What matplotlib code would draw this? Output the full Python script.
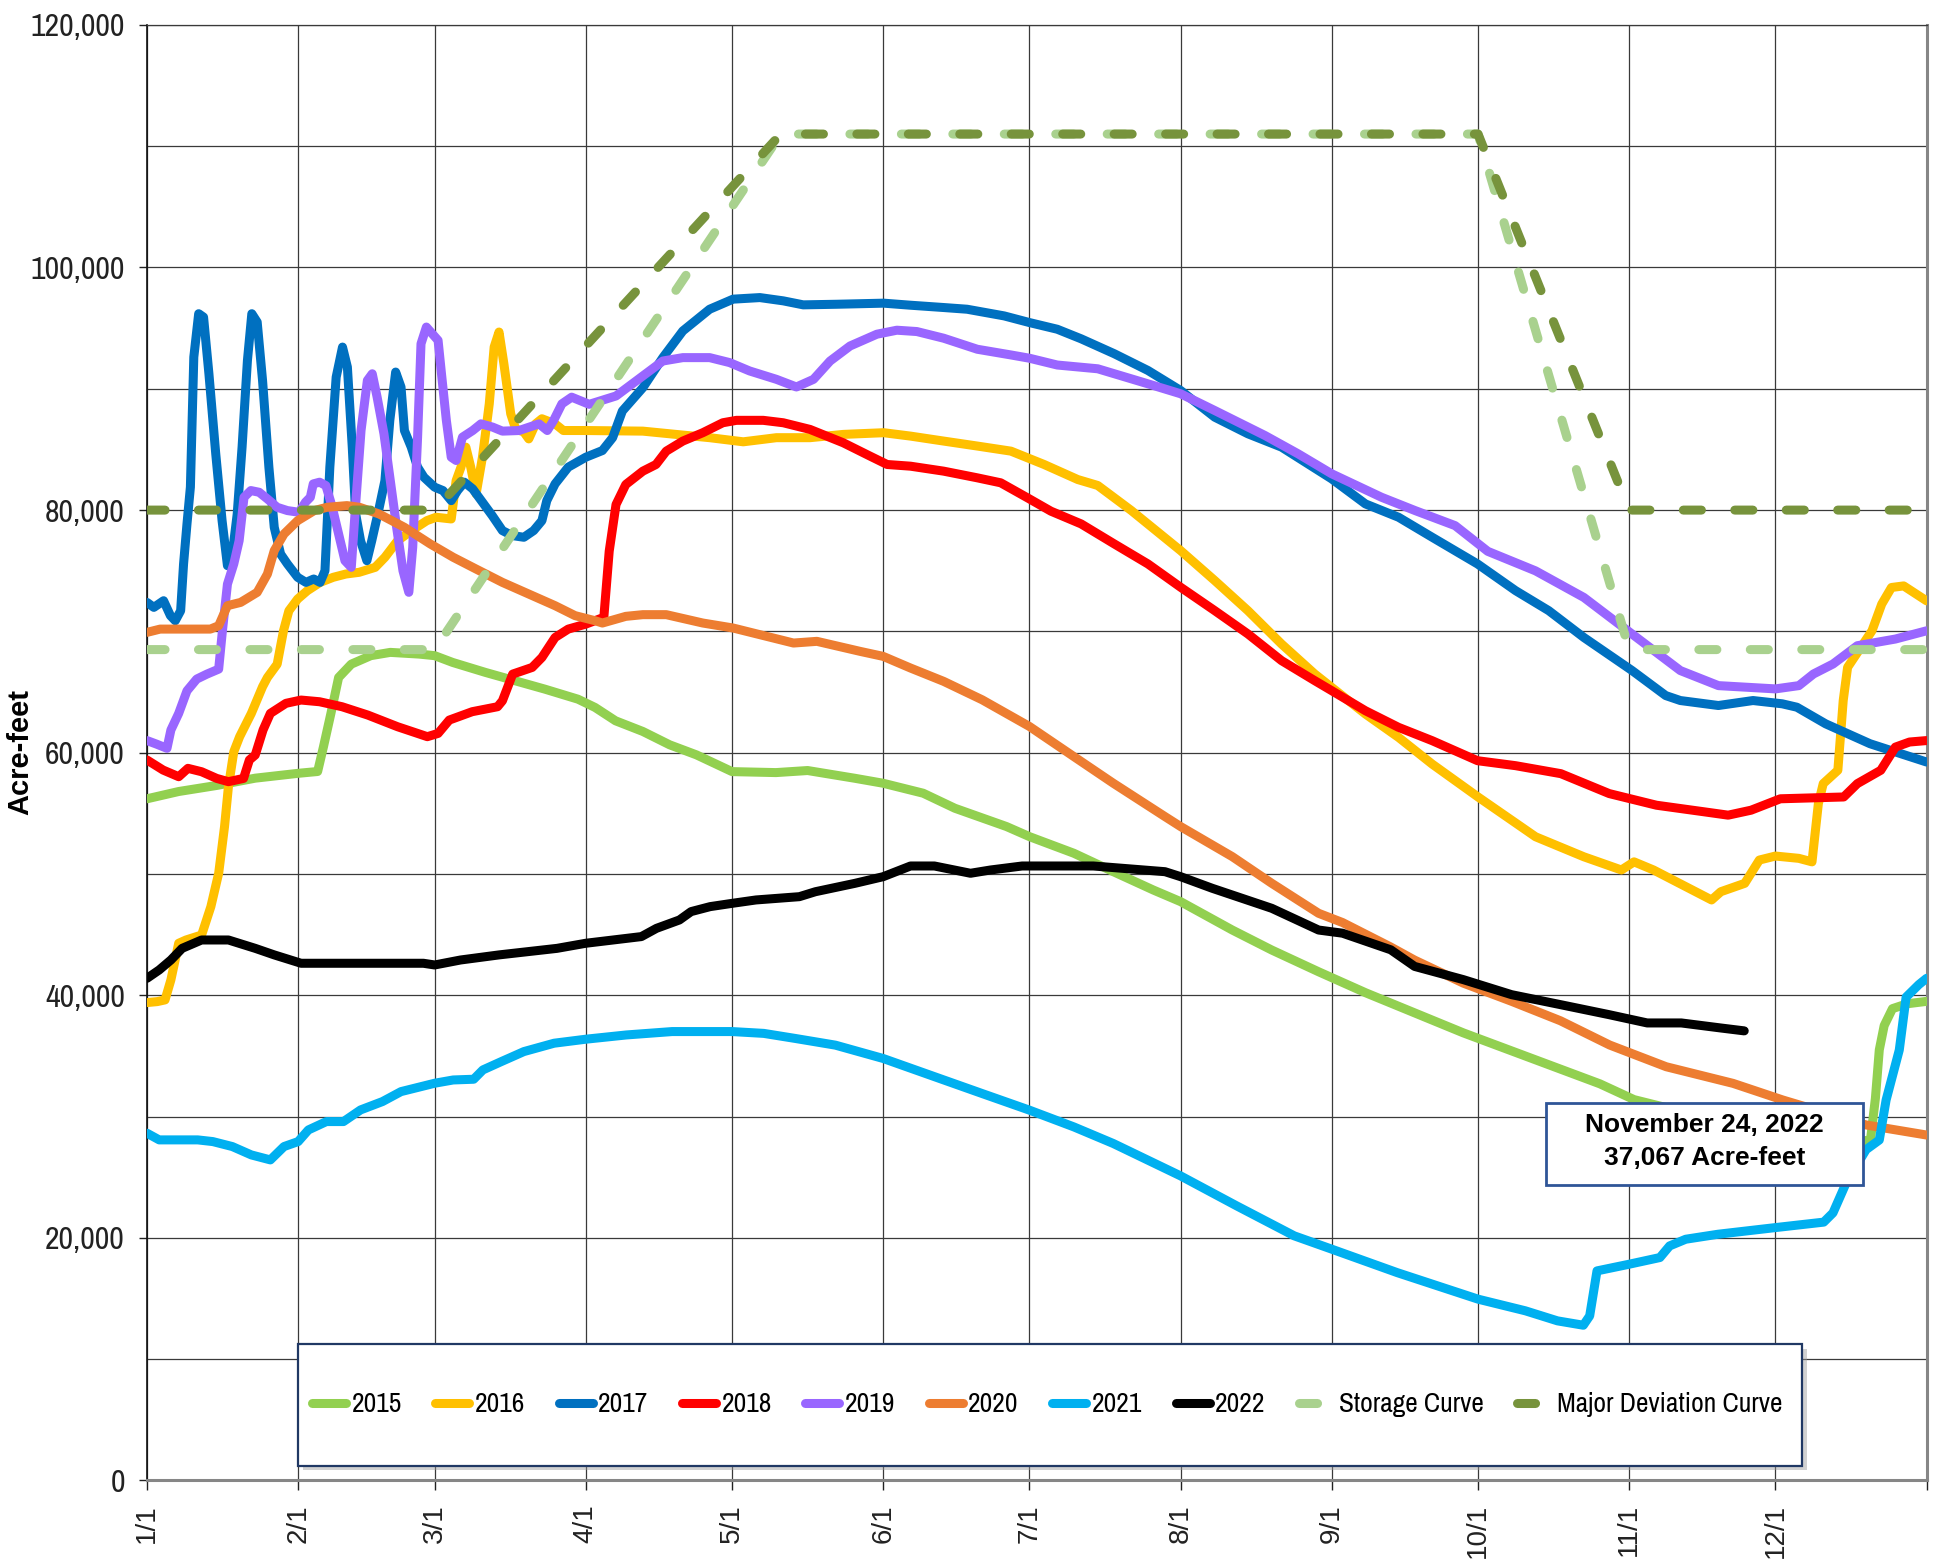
import matplotlib
matplotlib.use("Agg")
import matplotlib.pyplot as plt
from matplotlib import font_manager as fm
from matplotlib.patches import Rectangle
from matplotlib.ticker import FuncFormatter, MultipleLocator, FixedLocator

# ---- data (day of year, acre-feet) ----
month_days = [0, 31, 59, 90, 120, 151, 181, 212, 243, 273, 304, 334]
month_labels = ["1/1", "2/1", "3/1", "4/1", "5/1", "6/1", "7/1", "8/1", "9/1", "10/1", "11/1", "12/1"]

days_2015 = [0, 6.5, 14.3, 22.2, 31, 35, 36.2, 37.7, 39.3, 41.9, 45.9, 49.9, 55.8, 59, 62.7, 69.4, 75.5, 81.6,
             88.4, 91.9, 96.1, 101.7, 107.2, 112.7, 120, 129, 135.5, 145.2, 151, 159.2, 165.7, 176.3, 181, 190.1,
             198.2, 206.4, 212, 222.6, 230.7, 240.3, 250, 260, 270, 280, 290, 298, 305, 320, 335, 351, 353.5,
             354.5, 355.3, 356.3, 358, 361, 365]
af_2015 = [56200, 56800, 57300, 57900, 58300, 58450, 60500, 63200, 66200, 67300, 68000, 68270, 68130, 68000,
           67440, 66620, 65930, 65240, 64410, 63730, 62630, 61750, 60650, 59820, 58440, 58360, 58530, 57890, 57480,
           56660, 55420, 53910, 53080, 51710, 50190, 48680, 47720, 45380, 43730, 41940, 40200, 38550, 36900, 35400,
           33900, 32700, 31400, 29900, 28800, 27900, 28100, 31500, 35500, 37500, 38900, 39300, 39500]

days_2016 = [0, 2.1, 3.7, 4.9, 6.5, 8, 11.2, 13.1, 14.7, 15.9, 16.7, 17.8, 19, 21.4, 23.7, 24.7, 26.7, 28, 29.1,
             30.9, 32.9, 35.5, 38.2, 40.8, 43.5, 46.8, 48.8, 51.4, 54.8, 57.4, 59.3, 62.4, 63.4, 64.4, 65.4, 66.4,
             67.5, 68.8, 70.2, 71.2, 72.2, 73.2, 74.6, 75.6, 77.3, 78.3, 79.7, 81, 83.7, 85.4, 90, 101.7, 108.5,
             115.4, 122.3, 129.1, 136, 142.8, 151.1, 156.6, 163.4, 170.3, 177.2, 184, 190.9, 195, 201.9, 212, 219,
             225.8, 232.7, 239.5, 249.9, 256.7, 263.6, 273, 284.8, 294.7, 302.4, 305, 309, 320.9, 322.8, 327.7,
             330.7, 334, 338.8, 341.5, 342.8, 343.8, 346.8, 347.9, 348.8, 353.8, 355.8, 357.8, 360.3, 365]
af_2016 = [39400, 39480, 39620, 41270, 44290, 44560, 44970, 47310, 50060, 53900, 57200, 60080, 61320, 63240,
           65440, 66200, 67300, 70060, 71700, 72670, 73360, 74040, 74460, 74730, 74870, 75280, 76110, 77480, 78450,
           79130, 79410, 79270, 82430, 83540, 85190, 83540, 81330, 84360, 88760, 93440, 94680, 92060, 87940, 86700,
           86430, 85870, 87110, 87530, 87110, 86560, 86560, 86510, 86240, 85970, 85630, 85970, 85970, 86240, 86380,
           86100, 85690, 85280, 84860, 83760, 82520, 82030, 79960, 76660, 74190, 71710, 68960, 66490, 63190, 61260,
           59060, 56350, 53070, 51420, 50330, 51000, 50330, 47860, 48540, 49230, 51150, 51480, 51290, 51000, 55800,
           57450, 58550, 64300, 67040, 70050, 72250, 73620, 73750, 72520]

days_2017 = [0, 1.4, 3.4, 4.8, 5.8, 6.9, 7.5, 8.2, 8.9, 9.6, 10.6, 11.6, 12.7, 14.1, 15.4, 16.5, 17.5, 18.5, 19.5,
             20.6, 21.5, 22.6, 23.7, 25, 26.1, 27.4, 28.8, 30.9, 32.6, 34.2, 35.5, 36.5, 37.5, 38.8, 40.1, 41.1,
             42.1, 42.8, 43.8, 45.1, 46.1, 47.5, 48.8, 49.8, 51, 52.1, 52.8, 54.2, 55.5, 56.8, 59, 60.7, 62.4, 63.7,
             65.1, 66.8, 68.8, 70.8, 72.9, 74.9, 77.3, 79.3, 81, 82, 83.7, 86.4, 90, 93.4, 95.5, 97.5, 101.7, 105.8,
             109.9, 115.4, 120.2, 125.7, 130.5, 134.6, 141.5, 151.1, 156.6, 163.4, 168.2, 175.8, 181, 186.7, 191.6,
             198.4, 205.3, 212, 219, 225.8, 232.7, 243, 249.9, 256.7, 263.6, 272.9, 280.7, 287.5, 294.7, 304.6,
             311.5, 314.5, 322.3, 329.4, 335.4, 338.4, 344.3, 353.4, 365]
af_2017 = [72390, 71980, 72530, 71300, 70880, 71700, 75560, 78860, 81890, 92610, 96190, 95910, 91240, 84640,
           79130, 75420, 76380, 79670, 85190, 92340, 96190, 95500, 90690, 83540, 78580, 76380, 75560, 74460, 74040,
           74320, 74040, 75000, 83540, 90960, 93440, 91790, 85190, 79680, 77480, 75830, 77480, 79960, 82430, 87390,
           91380, 90140, 86560, 85190, 83540, 82710, 81890, 81610, 80780, 81610, 82300, 81750, 80650, 79550, 78310,
           77900, 77760, 78310, 79130, 80780, 82160, 83540, 84360, 84910, 85970, 88170, 90090, 92570, 94770, 96560,
           97390, 97520, 97250, 96920, 96970, 97060, 96890, 96700, 96560, 96010, 95460, 94910, 94120, 92890, 91510,
           89860, 87660, 86290, 85190, 82570, 80510, 79410, 77760, 75560, 73360, 71710, 69500, 66770, 64710, 64300,
           63890, 64300, 64030, 63750, 62380, 60740, 59230]

days_2018 = [0, 3.3, 6.5, 8.4, 11.2, 14.3, 16.7, 19.8, 21, 22.2, 23.8, 25.3, 28.5, 31.6, 35.4, 40, 45.3, 51.4, 57.5,
             59.7, 62, 66.7, 71.9, 72.9, 75, 79, 81, 83.7, 86.4, 90, 93.7, 94.8, 96.2, 98.2, 101.7, 104.4, 106.5,
             109.9, 114, 118.1, 120.9, 126.4, 130.5, 136, 142.8, 148.3, 151.8, 156.6, 163.4, 170.3, 175.1, 180.6,
             185.4, 191.6, 198.4, 205.3, 212, 219, 225.8, 232.7, 239.5, 243, 249.9, 256.7, 263.6, 272.9, 280.7, 290,
             299.9, 309.6, 319.5, 324.3, 329, 335, 348, 350.8, 355.6, 358.6, 361.5, 365]
af_2018 = [59400, 58570, 58020, 58710, 58430, 57880, 57610, 57880, 59400, 59810, 61870, 63240, 64070, 64340,
           64200, 63790, 63100, 62140, 61320, 61590, 62690, 63380, 63790, 64280, 66480, 67030, 67850, 69500, 70190,
           70600, 71160, 76610, 80460, 82110, 83210, 83760, 84860, 85690, 86380, 87200, 87400, 87400, 87200, 86650,
           85550, 84450, 83760, 83620, 83210, 82660, 82250, 81010, 79910, 78860, 77210, 75560, 73640, 71710, 69790,
           67590, 65940, 65110, 63460, 62090, 60990, 59340, 58930, 58270, 56630, 55670, 55120, 54850, 55260, 56200,
           56350, 57450, 58550, 60460, 60880, 61000]

days_2019 = [0, 2, 4.1, 4.9, 6.5, 8.2, 10.2, 12.3, 14.7, 15.4, 16.5, 17.8, 18.9, 19.9, 21.3, 23, 24.7, 26.7, 28.8,
             31.2, 32.5, 33.5, 34.1, 35.4, 36.7, 38, 39.3, 40.6, 41.9, 42.9, 43.9, 45.2, 46.2, 47.2, 48.6, 49.9,
             51.2, 52.5, 53.7, 54.5, 55.5, 56.2, 57.3, 59.7, 60.4, 61.4, 62.4, 63.4, 64.7, 66.8, 68.5, 70.9, 72.9,
             76.3, 80.4, 82.1, 83.4, 85.1, 87.1, 90.7, 96.2, 101.7, 105.8, 109.9, 115.4, 119.5, 123.6, 129.1, 133.2,
             136.7, 140.1, 144.2, 149.7, 153.8, 157.9, 163.4, 170.3, 177.2, 181, 186.7, 195, 205.3, 212, 219, 229.3,
             236.1, 243, 253.2, 260.1, 268.3, 275, 284.8, 294.7, 304.6, 314.5, 322.3, 334, 338.8, 341.8, 345.8,
             350.8, 358.6, 365]
af_2019 = [61000, 60700, 60360, 61870, 63240, 65100, 66070, 66480, 66890, 69780, 73900, 75560, 77480, 81060,
           81610, 81470, 80920, 80230, 79960, 79820, 80650, 81060, 82160, 82300, 82020, 80230, 78030, 75830, 75280,
           81060, 86560, 90690, 91240, 89310, 86290, 82430, 78580, 75000, 73220, 76930, 86010, 93710, 95090, 93990,
           91240, 87390, 84360, 84090, 86010, 86560, 87110, 86840, 86510, 86560, 87110, 86560, 87390, 88760, 89310,
           88720, 89410, 91060, 92290, 92570, 92570, 92160, 91470, 90780, 90150, 90780, 92290, 93530, 94500, 94830,
           94720, 94170, 93260, 92790, 92520, 91960, 91650, 90410, 89590, 88210, 86150, 84640, 82990, 81060, 79960,
           78720, 76600, 74990, 72800, 69780, 66770, 65530, 65260, 65530, 66490, 67310, 68820, 69370, 70050]

days_2020 = [0, 2.7, 8.9, 13, 14.7, 16.5, 19.2, 22.6, 24.7, 26.1, 28.1, 30.9, 34.3, 36.9, 41, 43.6, 47.6, 52.8,
             58.1, 62.8, 67.5, 72.9, 78.3, 83.7, 87.8, 91.9, 93.4, 98.2, 101.7, 106.5, 114, 120.2, 125.7, 132.6,
             137.4, 146.3, 151, 156.6, 163.4, 171.3, 181, 190.1, 198.2, 208.8, 212, 222.6, 230.7, 240.3, 245.2, 255,
             260, 270, 279.9, 289.9, 300, 311.6, 325.3, 335.5, 352.6, 365]
af_2020 = [69920, 70190, 70190, 70190, 70470, 72120, 72390, 73220, 74730, 76660, 78030, 79130, 79960, 80230,
           80370, 80230, 79680, 78580, 77210, 76110, 75140, 74040, 73080, 72120, 71300, 70880, 70690, 71240, 71380,
           71380, 70690, 70280, 69730, 69040, 69180, 68350, 67940, 66980, 65880, 64360, 62160, 59680, 57480, 54730,
           53910, 51430, 49230, 46760, 46000, 44000, 42900, 41000, 39500, 37900, 35900, 34110, 32740, 31370, 29310,
           28480]

days_2021 = [0, 2.5, 10.4, 13.5, 17.5, 21.4, 25.3, 28.1, 31, 33.1, 36.8, 40.3, 43.8, 48.3, 52.1, 59, 62.8, 67,
             68.9, 72.7, 77.3, 83.5, 90, 98.3, 107.7, 120, 126.5, 133, 141.2, 151, 161.6, 171.3, 181, 190.1, 198.2,
             212, 223.5, 235.3, 243, 256.4, 273, 282.7, 289.3, 294.6, 295.9, 297.4, 304, 310.3, 312.3, 315.6, 322.2,
             334, 343.9, 345.8, 348.5, 352.6, 355.3, 356.7, 359.4, 360.8, 363.4, 365]
af_2021 = [28630, 28080, 28080, 27940, 27530, 26840, 26430, 27530, 27940, 28900, 29590, 29590, 30550, 31240,
           32060, 32750, 33020, 33080, 33850, 34540, 35360, 36050, 36380, 36730, 37010, 37010, 36860, 36440, 35890,
           34790, 33280, 31900, 30530, 29150, 27780, 25110, 22640, 20170, 19070, 17140, 14950, 13990, 13160, 12800,
           13570, 17280, 17830, 18380, 19340, 19890, 20300, 20850, 21300, 22060, 24530, 27280, 28070, 31370, 35490,
           39850, 40880, 41400]

days_2022 = [0, 2.5, 4.9, 7.2, 11.2, 16.7, 22.2, 26.1, 31.6, 41.5, 56.7, 59, 64.3, 72.2, 84.1, 90, 101.4, 104.5,
             109.2, 111.6, 115.5, 120, 124.9, 133.8, 137.1, 145.2, 151, 156.6, 161.5, 168.9, 173, 179.5, 194.1,
             208.8, 212, 218.5, 230.7, 240.3, 245.2, 255.1, 260, 270, 279.9, 289.9, 299.8, 307.7, 314.7, 322.7, 327.6]
af_2022 = [41400, 42090, 42910, 43870, 44560, 44560, 43870, 43330, 42640, 42640, 42640, 42500, 42910, 43330,
           43870, 44290, 44840, 45520, 46210, 46900, 47310, 47580, 47860, 48130, 48540, 49230, 49780, 50660, 50660,
           50060, 50330, 50660, 50660, 50190, 49780, 48820, 47170, 45380, 45120, 43750, 42380, 41290, 40050, 39230,
           38410, 37720, 37720, 37310, 37067]

curve_days = [0, 59, 130, 273, 304, 365]
storage_af = [68500, 68500, 111000, 111000, 68500, 68500]
major_dev_af = [80000, 80000, 111000, 111000, 80000, 80000]

years = ["2015", "2016", "2017", "2018", "2019", "2020", "2021", "2022"]
year_days = [days_2015, days_2016, days_2017, days_2018, days_2019, days_2020, days_2021, days_2022]
year_af = [af_2015, af_2016, af_2017, af_2018, af_2019, af_2020, af_2021, af_2022]
year_colors = ["#92D050", "#FFC000", "#0070C0", "#FF0000", "#9966FF", "#ED7D31", "#00B0F0", "#000000"]


# ---- fonts: the tick/legend text in the original is a narrow Arial ----
def narrow_font():
    ttf = fm.fontManager.ttflist
    regular = [f for f in ttf if f.style == "normal" and str(f.weight) in ("400", "normal", "regular", "book")]
    for name in ("Liberation Sans Narrow", "Arial Narrow"):
        for f in regular:
            if f.name == name:
                return fm.FontProperties(fname=f.fname)
    for f in regular:
        if "Narrow" in f.name or "Condensed" in f.name:
            return fm.FontProperties(fname=f.fname)
    for fam in ("Roboto", "Noto Sans", "Open Sans", "Liberation Sans", "DejaVu Sans"):
        for f in regular:
            if f.name == fam and f.stretch in ("condensed", "semi-condensed", "extra-condensed"):
                return fm.FontProperties(fname=f.fname)
    return fm.FontProperties(family="Liberation Sans")


ARIAL = "Liberation Sans"
NARROW = narrow_font()

fig = plt.figure(figsize=(19.54, 15.62), dpi=100)
ax = fig.add_axes([0.07523, 0.05218, 0.91074, 0.93188])
renderer = fig.canvas.get_renderer()


def fit_size(text, size, target_px):
    t = fig.text(0, 0, text, fontproperties=NARROW, fontsize=size)
    w = t.get_window_extent(renderer).width
    t.remove()
    return min(size, size * target_px / w)


ytick_size = fit_size("120,000", 23, 97)
legend_size = fit_size("Major Deviation Curve", 20, 225)

LW = 6.5
DASH = (2.0, 3.7)
for i, (yr, d, v, c) in enumerate(zip(years, year_days, year_af, year_colors)):
    ax.plot(d, v, color=c, lw=LW, solid_capstyle="round", solid_joinstyle="round", label=yr, zorder=3 + i)
ax.plot(curve_days, storage_af, color="#A9D18E", lw=LW, dashes=DASH, dash_capstyle="round",
        label="Storage Curve", zorder=12)
ax.plot(curve_days, major_dev_af, color="#77933C", lw=LW, dashes=DASH, dash_capstyle="round",
        label="Major Deviation Curve", zorder=13)

ax.set_xlim(0, 365)
ax.set_ylim(0, 120000)
ax.xaxis.set_major_locator(FixedLocator(month_days))
ax.set_xticklabels(month_labels, rotation=90, fontfamily=ARIAL, fontsize=20)
ax.xaxis.set_minor_locator(FixedLocator([365]))
ax.yaxis.set_major_locator(MultipleLocator(20000))
ax.yaxis.set_minor_locator(MultipleLocator(10000))
ax.yaxis.set_major_formatter(FuncFormatter(lambda v, p: f"{int(v):,}"))
for t in ax.get_yticklabels():
    t.set_fontproperties(NARROW)
    t.set_fontsize(ytick_size)
ax.tick_params(axis="y", which="major", length=6, width=1, pad=10, colors="#222222")
ax.tick_params(axis="y", which="minor", length=0)
ax.tick_params(axis="x", which="both", length=7, width=1, pad=10, colors="#222222")

ax.set_axisbelow(True)
ax.grid(True, which="major", axis="both", color="#3a3a3a", lw=0.9)
ax.grid(True, which="minor", axis="y", color="#3a3a3a", lw=0.9)
ax.spines["left"].set_color("#111111"); ax.spines["left"].set_linewidth(1.2)
ax.spines["top"].set_color("#3a3a3a"); ax.spines["top"].set_linewidth(0.9)
for s in ("bottom", "right"):
    ax.spines[s].set_color("#868686"); ax.spines[s].set_linewidth(2.2)

fig.text(0.0105, 0.5186, "Acre-feet", rotation=90, ha="center", va="center",
         fontfamily=ARIAL, fontweight="bold", fontsize=21)

# legend box with shadow
lx, ly, lw_, lh = 0.0849, 0.0103, 0.8453, 0.0835
ax.add_patch(Rectangle((lx + 0.0028, ly - 0.0034), lw_, lh, transform=ax.transAxes,
                       facecolor="#9a9a9a", edgecolor="none", alpha=0.45, zorder=19))
ax.add_patch(Rectangle((lx, ly), lw_, lh, transform=ax.transAxes, facecolor="white",
                       edgecolor="#203864", lw=1.6, zorder=20))
leg_prop = NARROW.copy()
leg_prop.set_size(legend_size)
handle_px = 34.0
leg = ax.legend(loc="center", bbox_to_anchor=(0.0927, ly, 0.826, lh), mode="expand", ncol=10,
                frameon=False, borderpad=0, borderaxespad=0,
                handlelength=handle_px / (legend_size * 100 / 72), handletextpad=0.2, prop=leg_prop)
leg.set_zorder(21)

# annotation box
ax.add_patch(Rectangle((0.7860, 0.2030), 0.17847, 0.05613, transform=ax.transAxes, facecolor="white",
                       edgecolor="#2F5597", lw=2, zorder=30))
ax.text(0.8752, 0.2442, "November 24, 2022", transform=ax.transAxes, ha="center", va="center",
        fontfamily=ARIAL, fontweight="bold", fontsize=19, zorder=31)
ax.text(0.8752, 0.2215, "37,067 Acre-feet", transform=ax.transAxes, ha="center", va="center",
        fontfamily=ARIAL, fontweight="bold", fontsize=19, zorder=31)

fig.savefig("out.png", dpi=100)
